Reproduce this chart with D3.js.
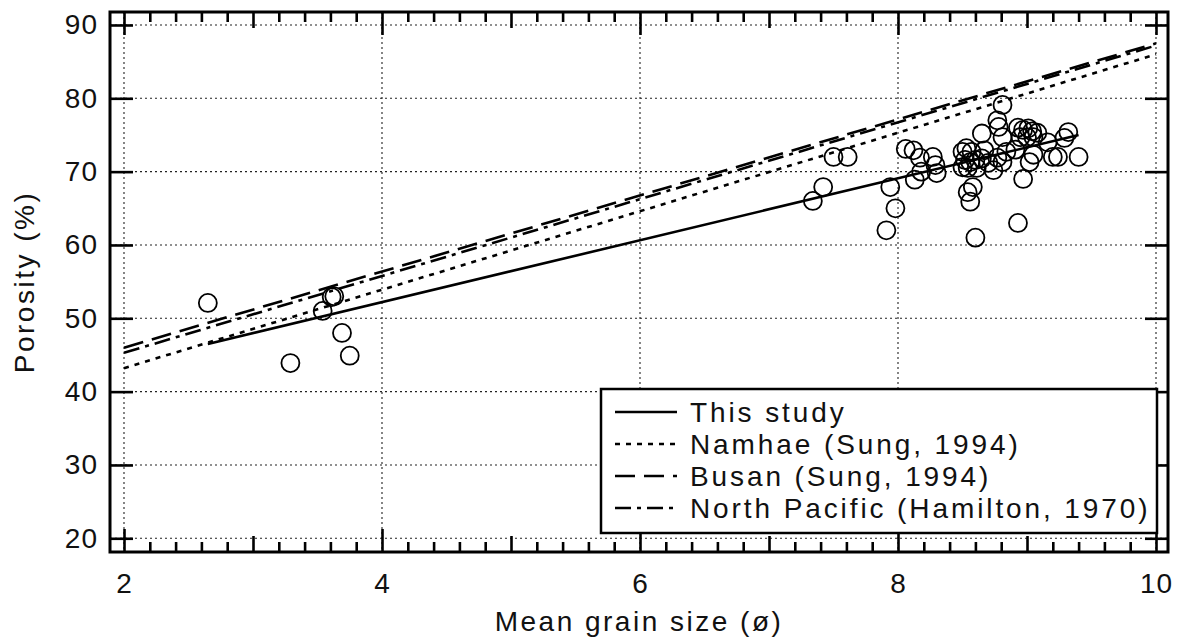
<!DOCTYPE html>
<html>
<head>
<meta charset="utf-8">
<script src="https://cdn.jsdelivr.net/npm/d3@7"></script>
<style>
  html, body { margin: 0; padding: 0; background: #fff; }
  svg { display: block; font-family: "Liberation Sans", Arial, sans-serif; }
</style>
</head>
<body>
<svg id="chart" width="1186" height="639"></svg>
<script>
// === Data ===
// Measured samples: [mean grain size (phi), porosity (%)]
const samples = [
  [2.65, 52.1], [3.29, 43.9], [3.54, 51.0], [3.61, 52.9], [3.63, 53.0],
  [3.69, 48.0], [3.75, 44.9],
  [7.34, 66.0], [7.42, 67.9], [7.50, 72.0], [7.61, 72.0],
  [7.91, 62.0], [7.94, 67.9], [7.98, 65.0],
  [8.06, 73.1], [8.12, 72.9], [8.17, 71.9], [8.13, 68.9], [8.18, 70.0],
  [8.27, 72.0], [8.29, 70.9], [8.30, 69.8],
  [8.50, 72.7], [8.53, 73.2], [8.57, 72.7], [8.52, 71.6], [8.56, 71.3],
  [8.60, 71.6], [8.50, 70.6], [8.54, 70.5], [8.61, 70.5], [8.65, 71.8],
  [8.67, 72.9], [8.70, 71.2], [8.74, 70.2], [8.77, 71.9], [8.81, 71.3],
  [8.84, 72.7], [8.91, 73.0], [9.02, 71.3], [9.05, 72.3],
  [8.58, 67.9], [8.54, 67.2], [8.56, 65.9], [8.60, 61.0], [8.93, 63.0],
  [8.97, 69.0],
  [8.65, 75.2], [8.77, 77.0], [8.78, 76.1], [8.81, 74.7], [8.81, 79.1],
  [8.93, 76.0], [8.97, 75.7], [9.01, 75.9], [9.04, 75.5], [8.95, 74.7],
  [9.00, 74.7], [9.05, 74.7], [9.08, 75.3],
  [9.16, 74.0], [9.29, 74.6], [9.32, 75.4],
  [9.20, 72.0], [9.24, 72.0], [9.40, 72.0]
];

// Regression lines: endpoints [x, y]
const thisStudy    = [[2.65, 46.5], [9.40, 75.0]];
const namhae       = [[2.00, 43.2], [10.0, 86.0]];
const busan        = [[2.00, 46.0], [10.0, 87.5]];
const northPacific = [[2.00, 45.3], [10.0, 87.2]];

const seriesNames = ['This study', 'Namhae (Sung, 1994)', 'Busan (Sung, 1994)', 'North Pacific (Hamilton, 1970)'];

const xMajor = [2, 4, 6, 8, 10];
const xMedium = [3, 5, 7, 9];
const yTicks = [20, 30, 40, 50, 60, 70, 80, 90];

// === Layout ===
const svg = d3.select('#chart');
const pLeft = 110, pRight = 1168, pTop = 12, pBottom = 552;

const x = d3.scaleLinear().domain([1.8915, 10.093]).range([pLeft, pRight]);
const y = d3.scaleLinear().domain([18.13, 91.77]).range([pBottom, pTop]);

// Grid (dotted)
const grid = svg.append('g').attr('stroke', '#222').attr('stroke-width', 1.1).attr('stroke-dasharray', '2,3');
grid.selectAll('.gx').data(xMajor).join('line')
  .attr('x1', d => x(d)).attr('x2', d => x(d)).attr('y1', pTop).attr('y2', pBottom);
grid.selectAll('.gy').data(yTicks).join('line')
  .attr('y1', d => y(d)).attr('y2', d => y(d)).attr('x1', pLeft).attr('x2', pRight);

// Minor ticks every 0.2
const xMinor = d3.range(2, 10.01, 0.2).map(v => +v.toFixed(1)).filter(v => !xMajor.includes(v) && !xMedium.includes(v));

function tickAxis(axisFn, scale, vals, size, transform) {
  const g = svg.append('g').attr('transform', transform)
    .call(axisFn(scale).tickValues(vals).tickSize(-size).tickFormat(''));
  g.select('.domain').remove();
  g.selectAll('line').attr('stroke', '#000').attr('stroke-width', 2.6);
  return g;
}

// bottom & top x ticks
tickAxis(d3.axisBottom, x, xMinor, 10, `translate(0,${pBottom})`);
tickAxis(d3.axisBottom, x, xMedium, 16, `translate(0,${pBottom})`);
tickAxis(d3.axisTop, x, xMinor, 10, `translate(0,${pTop})`);
tickAxis(d3.axisTop, x, xMedium, 16, `translate(0,${pTop})`);
tickAxis(d3.axisTop, x, xMajor, 23, `translate(0,${pTop})`);
tickAxis(d3.axisRight, y, yTicks, 23, `translate(${pRight},0)`);

// labelled axes
const xAxis = svg.append('g').attr('transform', `translate(0,${pBottom})`)
  .call(d3.axisBottom(x).tickValues(xMajor).tickSize(-23).tickPadding(21).tickFormat(d3.format('d')));
const yAxis = svg.append('g').attr('transform', `translate(${pLeft},0)`)
  .call(d3.axisLeft(y).tickValues(yTicks).tickSize(-23).tickPadding(12).tickFormat(d3.format('d')));
[xAxis, yAxis].forEach(g => {
  g.select('.domain').remove();
  g.selectAll('line').attr('stroke', '#000').attr('stroke-width', 2.6);
  g.selectAll('text').attr('font-family', '"Liberation Sans", Arial, sans-serif')
    .style('font-size', '28px').style('letter-spacing', '1px').attr('fill', '#111');
});

// Frame
svg.append('rect')
  .attr('x', pLeft).attr('y', pTop).attr('width', pRight - pLeft).attr('height', pBottom - pTop)
  .attr('fill', 'none').attr('stroke', '#000').attr('stroke-width', 3);

// Lines
const line = d3.line().x(d => x(d[0])).y(d => y(d[1]));
const styles = [
  { data: thisStudy, dash: null, w: 2.6 },
  { data: namhae, dash: '5,6', w: 2.6 },
  { data: busan, dash: '20,9', w: 2.6 },
  { data: northPacific, dash: '16,6,4,6', w: 2.6 }
];
svg.append('g').selectAll('path').data(styles).join('path')
  .attr('d', d => line(d.data))
  .attr('fill', 'none').attr('stroke', '#000')
  .attr('stroke-width', d => d.w)
  .attr('stroke-dasharray', d => d.dash);

// Points
svg.append('g').selectAll('circle').data(samples).join('circle')
  .attr('cx', d => x(d[0])).attr('cy', d => y(d[1])).attr('r', 9)
  .attr('fill', 'none').attr('stroke', '#000').attr('stroke-width', 1.8);

// Legend
const lg = svg.append('g').attr('transform', 'translate(601,389)');
lg.append('rect').attr('width', 556).attr('height', 144)
  .attr('fill', '#fff').attr('stroke', '#000').attr('stroke-width', 2.5);
const rows = lg.selectAll('.row').data(styles).join('g')
  .attr('transform', (d, i) => `translate(0,${23 + i * 32})`);
rows.append('line').attr('x1', 14).attr('x2', 76)
  .attr('stroke', '#000').attr('stroke-width', 2.6)
  .attr('stroke-dasharray', d => d.dash);
rows.append('text').attr('x', 89).attr('dy', '0.36em')
  .style('font-size', '28px').attr('fill', '#111').style('letter-spacing', '2.9px')
  .text((d, i) => seriesNames[i]);

// Axis titles
svg.append('text')
  .attr('transform', `translate(34,${(pTop + pBottom) / 2}) rotate(-90)`)
  .attr('text-anchor', 'middle')
  .style('font-size', '28px').attr('fill', '#111').style('letter-spacing', '2.5px')
  .text('Porosity (%)');
svg.append('text')
  .attr('x', (pLeft + pRight) / 2).attr('y', 631)
  .attr('text-anchor', 'middle')
  .style('font-size', '28px').attr('fill', '#111').style('letter-spacing', '2.5px')
  .text('Mean grain size (ø)');
</script>
</body>
</html>
